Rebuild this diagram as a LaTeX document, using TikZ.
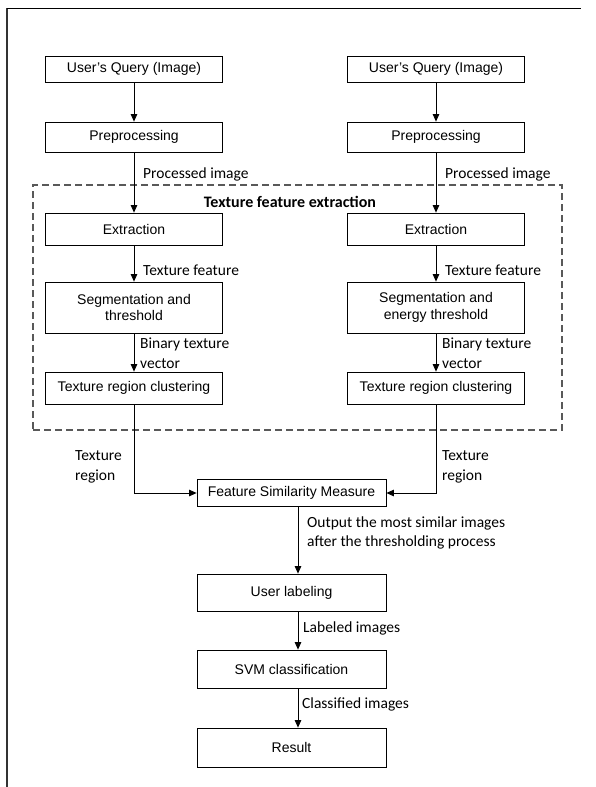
\documentclass[tikz,border=0pt]{standalone}
\usepackage{fontspec}
\setmainfont{Liberation Sans}
\newfontfamily\lblfont{Carlito}
\usetikzlibrary{arrows.meta}
\tikzset{
  box/.style={draw=black, line width=0.8pt, minimum width=177pt, inner sep=0pt, font=\fontsize{14}{16.5}\selectfont, align=center},
  cbox/.style={box, minimum width=189pt},
  arr/.style={draw=black, line width=0.8pt, -{Triangle[length=7.5pt,width=6.5pt]}},
  lbl/.style={font=\lblfont\fontsize{15.5}{19.5}\selectfont, align=left, inner sep=0pt},
  frame/.style={draw=black!80, line width=1.2pt}
}
\begin{document}
\begin{tikzpicture}[x=1pt,y=-1pt]
\useasboundingbox (0,0) rectangle (595,787);
% page frame
\coordinate (f1) at (7,787);
\coordinate (f2) at (7,8);
\coordinate (f3) at (581,8);
\draw[frame] (f1) -- (f2);
\draw[black, line width=0.8pt] (f2) -- (f3);
% dashed group
\node[draw=black!65, line width=1.3pt, dash pattern=on 7pt off 4pt, minimum width=529pt, minimum height=245pt, inner sep=0pt] (grp) at (297.5,307.5) {};
\node[font=\lblfont\bfseries\fontsize{16}{19}\selectfont, inner sep=0pt] (title) at (290,202) {Texture feature extraction};
% left column
\node[box, minimum height=26pt] (uq1) at (134,69) {User's Query (Image)};
\node[box, minimum height=30pt] (pp1) at (134,137) {Preprocessing};
\node[box, minimum height=32pt] (ex1) at (134,229) {Extraction};
\node[box, minimum height=51pt] (sg1) at (134,307.5) {Segmentation and\\threshold};
\node[box, minimum height=32pt] (cl1) at (134,388) {Texture region clustering};
% right column
\node[box, minimum height=26pt] (uq2) at (436,69) {User's Query (Image)};
\node[box, minimum height=30pt] (pp2) at (436,137) {Preprocessing};
\node[box, minimum height=32pt] (ex2) at (436,229) {Extraction};
\node[box, minimum height=51pt] (sg2) at (436,307.5) {Segmentation and\\energy threshold};
\node[box, minimum height=32pt] (cl2) at (436,388) {Texture region clustering};
% centre chain
\node[cbox, minimum height=27pt] (fs) at (291.5,493) {Feature Similarity Measure};
\node[cbox, minimum height=37pt] (ul) at (291.5,592.5) {User labeling};
\node[cbox, minimum height=38pt] (svm) at (291.5,669) {SVM classification};
\node[cbox, minimum height=39pt] (res) at (291.5,747.5) {Result};
% arrows left
\draw[arr] (uq1) -- (pp1);
\draw[arr] (pp1) -- (ex1);
\draw[arr] (ex1) -- (sg1);
\draw[arr] (sg1) -- (cl1);
\draw[arr] (cl1.south) |- (fs.west);
% arrows right
\draw[arr] (uq2) -- (pp2);
\draw[arr] (pp2) -- (ex2);
\draw[arr] (ex2) -- (sg2);
\draw[arr] (sg2) -- (cl2);
\draw[arr] (cl2.south) |- (fs.east);
% centre arrows
\draw[arr] ([xshift=6.5pt]fs.south) -- ([xshift=6.5pt]ul.north);
\draw[arr] ([xshift=6.5pt]ul.south) -- ([xshift=6.5pt]svm.north);
\draw[arr] ([xshift=6.5pt]svm.south) -- ([xshift=6.5pt]res.north);
% labels
\node[lbl, anchor=west] (l1) at (143,174) {Processed image};
\node[lbl, anchor=west] (r1) at (445,174) {Processed image};
\node[lbl, anchor=west] (l2) at (143,270) {Texture feature};
\node[lbl, anchor=west] (r2) at (445,270) {Texture feature};
\node[lbl, anchor=west] (l3) at (140,353) {Binary texture\\vector};
\node[lbl, anchor=west] (r3) at (442,353) {Binary texture\\vector};
\node[lbl, anchor=west] (l4) at (75,467) {Texture\\region};
\node[lbl, anchor=west] (r4) at (442,467) {Texture\\region};
\node[lbl, anchor=west] (c1) at (307,533) {Output the most similar images\\after the thresholding process};
\node[lbl, anchor=west] (c2) at (303,628) {Labeled images};
\node[lbl, anchor=west] (c3) at (302,704) {Classified images};
\end{tikzpicture}
\end{document}
